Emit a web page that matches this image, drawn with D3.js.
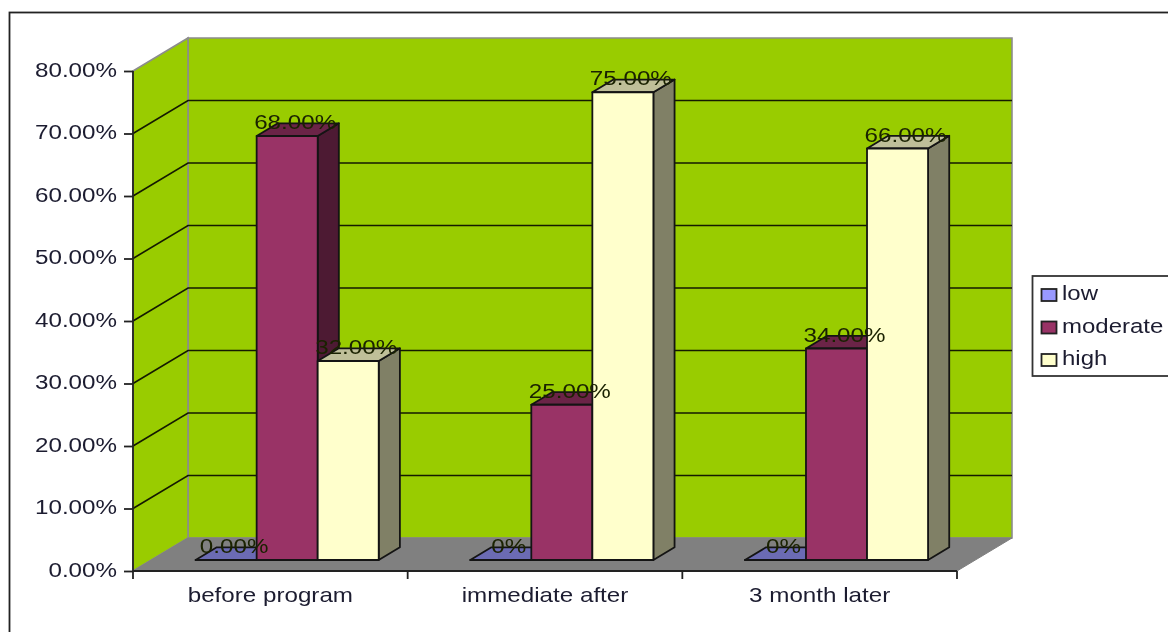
<!DOCTYPE html>
<html><head><meta charset="utf-8">
<script src="https://cdn.jsdelivr.net/npm/d3@7"></script>
<style>
html,body{margin:0;padding:0;background:#fff;overflow:hidden}
svg{display:block;filter:blur(0.55px)}
text{font-family:"Liberation Sans",Arial,sans-serif;fill:#1c1c30}
</style></head><body>
<svg id="c" width="1168" height="632"></svg>
<script>
const categories=["before program","immediate after","3 month later"];
const seriesNames=["low","moderate","high"];
const low=[0,0,0];
const moderate=[68,25,34];
const high=[32,75,66];
const lowLabels=["0.00%","0%","0%"];
const moderateLabels=["68.00%","25.00%","34.00%"];
const highLabels=["32.00%","75.00%","66.00%"];
const yTicks=[0,10,20,30,40,50,60,70,80];
const faceColors=["#9999ff","#993366","#ffffcc"];
const topColors=["#6b6bb3","#6b2447","#bfbf99"];
const sideColors=["#4d4d80","#4d1a33","#808066"];

const svg=d3.select("#c");
const sx=1.18, fs=20.5;
const L=133,R=957,B=571,T=71,DX=55,DY=-33;
const x=d3.scaleBand().domain(categories).range([L,R]);
const inner=d3.scaleBand().domain(seriesNames).range([0,x.bandwidth()]).paddingOuter(0.75).paddingInner(0);
const y=d3.scaleLinear().domain([0,80]).range([B,T]);
const pts=a=>a.map(p=>p.join(",")).join(" ");

// frame
svg.append("rect").attr("x",9.5).attr("y",12.5).attr("width",1300).attr("height",800)
  .attr("fill","#fff").attr("stroke","#222").attr("stroke-width",1.8);

// walls and floor
svg.append("polygon").attr("points",pts([[L+DX,y(80)+DY],[R+DX,y(80)+DY],[R+DX,B+DY],[L+DX,B+DY]]))
  .attr("fill","#99cc00").attr("stroke","#8c8c8c").attr("stroke-width",1.6);
svg.append("polygon").attr("points",pts([[L,y(80)],[L+DX,y(80)+DY],[L+DX,B+DY],[L,B]]))
  .attr("fill","#99cc00").attr("stroke","#8c8c8c").attr("stroke-width",1.6);
svg.append("polygon").attr("points",pts([[L,B],[L+DX,B+DY],[R+DX,B+DY],[R,B]]))
  .attr("fill","#808080").attr("stroke","#808080");

// grid
yTicks.filter(d=>d>0&&d<80).forEach(d=>{
  svg.append("polyline").attr("points",pts([[L,y(d)],[L+DX,y(d)+DY],[R+DX,y(d)+DY]]))
    .attr("fill","none").attr("stroke","#141a00").attr("stroke-width",1.6);
});

// bars
const F=1/3, K=0.385; // depth position and thickness of the bars
const data=[];
categories.forEach((c,i)=>{
  [low,moderate,high].forEach((vals,s)=>{
    const lab=[lowLabels,moderateLabels,highLabels][s][i];
    data.push({c,s,name:seriesNames[s],v:vals[i],lab});
  });
});
const ox=DX*F-1.5, oy=DY*F, dx=DX*K, dy=DY*K;
const g=svg.append("g");
data.forEach(d=>{
  const x0=x(d.c)+inner(d.name)+ox, x1=x0+inner.bandwidth();
  const yb=B+oy, yt=Math.min(yb,y(d.v)+oy+1);
  d.cx=(x0+x1)/2; d.yt=yt;
  const st={stroke:"#141414","stroke-width":1.8,"stroke-linejoin":"round"};
  const add=(p,f)=>{const e=g.append("polygon").attr("points",pts(p)).attr("fill",f);
    Object.entries(st).forEach(([k,v])=>e.attr(k,v));};
  add([[x1,yt],[x1+dx,yt+dy],[x1+dx,yb+dy],[x1,yb]],sideColors[d.s]);
  add([[x0,yt],[x0+dx,yt+dy],[x1+dx,yt+dy],[x1,yt]],topColors[d.s]);
  add([[x0,yt],[x1,yt],[x1,yb],[x0,yb]],faceColors[d.s]);
});

// axes
const yAxis=d3.axisLeft(y).tickValues(yTicks).tickSize(9).tickFormat(d=>d3.format(".2f")(d)+"%");
const ya=svg.append("g").attr("transform",`translate(${L},0)`).call(yAxis);
ya.select(".domain").attr("stroke","#222").attr("stroke-width",1.8).attr("d",`M${0},${y(80)}V${B}`);
ya.selectAll("line").attr("stroke","#222").attr("stroke-width",1.8);
ya.selectAll("text").attr("x",0).attr("dy",null).attr("dominant-baseline","central").attr("font-size",fs)
  .attr("text-anchor","end").attr("transform",`translate(-16,-1.5) scale(${sx},1)`).attr("font-family",null);

const xa=svg.append("g").attr("transform",`translate(0,${B})`).call(
  d3.axisBottom(x).tickSize(0).tickPadding(0));
xa.select(".domain").attr("stroke","#222").attr("stroke-width",1.8).attr("d",`M${L},0H${R}`);
xa.selectAll("line").remove();
[0,1,2,3].forEach(i=>{
  const px=L+i*x.bandwidth();
  xa.append("line").attr("x1",px).attr("x2",px).attr("y1",0).attr("y2",8).attr("stroke","#222").attr("stroke-width",1.8);
});
xa.selectAll(".tick text").attr("y",0).attr("dy",null).attr("font-size",fs).attr("text-anchor","middle")
  .attr("transform",`translate(0,31) scale(${sx},1)`).attr("font-family",null);

// data labels
svg.append("g").selectAll("text").data(data).join("text")
  .attr("font-size",fs).attr("text-anchor","middle")
  .attr("transform",d=>`translate(${d.cx+8},${d.yt-7}) scale(${sx},1)`)
  .style("fill","#1a2200").text(d=>d.lab);

// legend
const lg=svg.append("g");
lg.append("rect").attr("x",1032.5).attr("y",276).attr("width",200).attr("height",100)
  .attr("fill","#fff").attr("stroke","#333").attr("stroke-width",1.8);
seriesNames.forEach((n,i)=>{
  const yy=294+i*32.5;
  lg.append("rect").attr("x",1041.5).attr("y",yy-5).attr("width",15).attr("height",12)
    .attr("fill",faceColors[i]).attr("stroke","#222").attr("stroke-width",1.8);
  lg.append("text").attr("font-size",fs).attr("transform",`translate(1062,${yy+6}) scale(1.17,1)`).text(n);
});
</script>
</body></html>
